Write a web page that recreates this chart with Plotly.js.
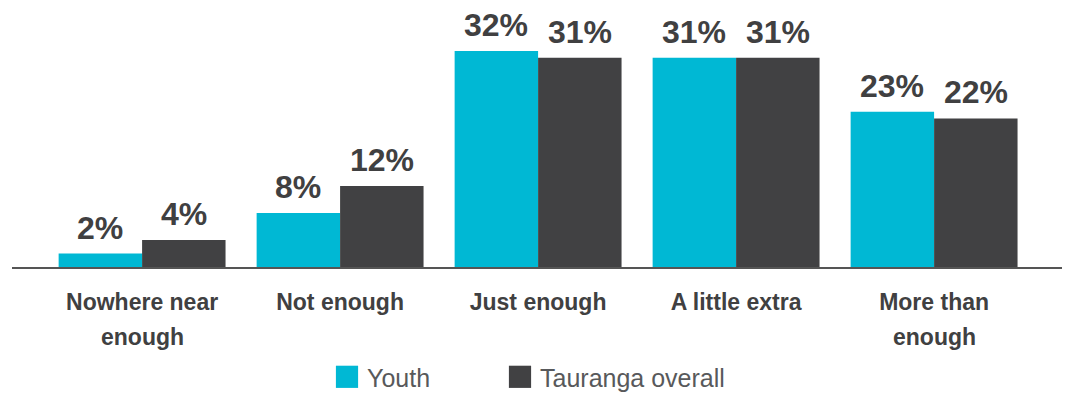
<!DOCTYPE html>
<html>
<head>
<meta charset="utf-8">
<script src="https://cdn.plot.ly/plotly-3.0.1.min.js"></script>
<style>
  html, body { margin: 0; padding: 0; background: #fff; }
  #chart { width: 1069px; height: 394px; }
</style>
</head>
<body>
<div id="chart"></div>
<script>
const categories = ['Nowhere near enough', 'Not enough', 'Just enough', 'A little extra', 'More than enough'];
const labelLine1 = ['Nowhere near', 'Not enough', 'Just enough', 'A little extra', 'More than'];
const labelLine2 = ['enough', '', '', '', 'enough'];
const seriesNames = ['Youth', 'Tauranga overall'];
const youth = [2, 8, 32, 31, 23];
const tauranga = [4, 12, 31, 31, 22];
const seriesColors = ['#00B8D4', '#414143'];

const FONT = 'Liberation Sans, Arial, Helvetica, sans-serif';
const TEXT_DARK = '#404041';
const allSeries = [youth, tauranga];

const traces = allSeries.map((vals, i) => ({
  type: 'bar',
  name: seriesNames[i],
  x: categories,
  y: vals,
  marker: { color: seriesColors[i], line: { width: 0 } },
  hoverinfo: 'skip'
}));

const annotations = [];
allSeries.forEach((vals, i) => {
  vals.forEach((v, j) => {
    annotations.push({
      x: categories[j], y: v, xref: 'x', yref: 'y',
      xshift: (i === 0 ? -1 : 1) * 41.75,
      yshift: 26, yanchor: 'middle', xanchor: 'center',
      text: v + '%', showarrow: false,
      font: { family: FONT, size: 32, weight: 'bold', color: TEXT_DARK }
    });
  });
});
labelLine2.forEach((t, j) => {
  if (!t) return;
  annotations.push({
    x: categories[j], xref: 'x', y: 0, yref: 'paper',
    yshift: -70, yanchor: 'middle', xanchor: 'center',
    text: t, showarrow: false,
    font: { family: FONT, size: 23, weight: 'bold', color: TEXT_DARK }
  });
});

const layout = {
  width: 1069, height: 394,
  margin: { l: 12, r: 7, t: 10, b: 127, pad: 0, autoexpand: false },
  paper_bgcolor: '#fff', plot_bgcolor: '#fff',
  font: { family: FONT, color: TEXT_DARK },
  barmode: 'group',
  bargap: 0.157,
  bargroupgap: 0,
  showlegend: true,
  legend: {
    orientation: 'h',
    x: 0.3, xanchor: 'left',
    yref: 'container', y: 0.043, yanchor: 'middle',
    font: { family: FONT, size: 25, color: '#58595B' },
    entrywidth: 128,
    bgcolor: 'rgba(0,0,0,0)'
  },
  xaxis: {
    type: 'category',
    range: [-0.657, 4.646],
    tickvals: categories,
    ticktext: labelLine1,
    tickfont: { family: FONT, size: 23, weight: 'bold', color: TEXT_DARK },
    ticks: '',
    ticklabelstandoff: 14,
    showline: true, linecolor: '#555', linewidth: 1.5,
    showgrid: false, zeroline: false, fixedrange: true
  },
  yaxis: {
    range: [0, 38.07],
    visible: false, showgrid: false, zeroline: false, fixedrange: true
  },
  annotations: annotations
};

Plotly.newPlot('chart', traces, layout, { displayModeBar: false, staticPlot: true }).then(gd => {
  gd.querySelectorAll('.legendpoints path').forEach(p => {
    const t = p.getAttribute('transform') || '';
    p.setAttribute('transform', t + ' scale(1.85)');
  });
  gd.querySelectorAll('.legend .scrollbox').forEach(s => s.removeAttribute('clip-path'));
  gd.querySelectorAll('.legend [clip-path]').forEach(s => s.removeAttribute('clip-path'));
});
</script>
</body>
</html>
